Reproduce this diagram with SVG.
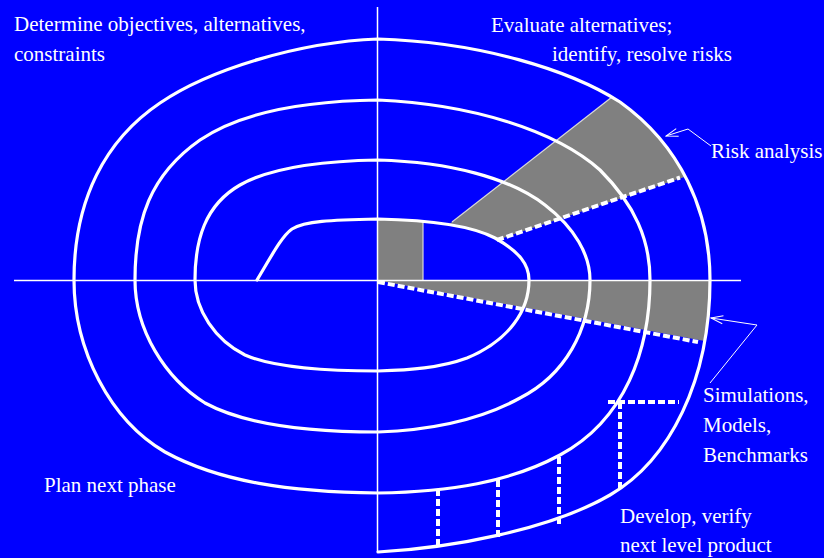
<svg xmlns="http://www.w3.org/2000/svg" width="824" height="558" viewBox="0 0 824 558">
<style>
.lbl{font-family:"Liberation Serif","Times New Roman",serif;font-size:21px;fill:#ffffff}
.spiral{fill:none;stroke:#ffffff;stroke-width:3.2;stroke-linejoin:round;stroke-linecap:round}
.axis{stroke:#ffffff;stroke-width:1.5;fill:none}
.dash{fill:none;stroke:#ffffff;stroke-width:4;stroke-dasharray:7 3}
.edge{stroke:#d8d8d8;stroke-width:1.2;fill:none}
.ptr{fill:none;stroke:#ffffff;stroke-width:1}
.gray{fill:#808080}
</style>
<defs>
<clipPath id="bandTR">
<path clip-rule="evenodd" d="M378,280 L378,39 C480,42 570,70 620,102 C680,145 710,210 710,280 Z M378,280 L378,219 C430,220 470,225 495,238 C520,252 529,265 529,280 Z"/>
</clipPath>
<clipPath id="outerBR">
<path d="M378,280 L710,280 C710,380 670,460 610,495 C550,530 450,548 378,552 Z"/>
</clipPath>
<marker id="open" viewBox="0 0 14 10" refX="13" refY="5" markerWidth="14" markerHeight="10" markerUnits="userSpaceOnUse" orient="auto">
<path d="M1,1 L13,5 L1,9" fill="none" stroke="#ffffff" stroke-width="1"/>
</marker>
</defs>
<rect width="824" height="558" fill="#0000ff"/>

<g id="shading">
<path class="gray" clip-path="url(#bandTR)" d="M378,280 L752,-13 L860,118 Z"/>
<path class="gray" clip-path="url(#outerBR)" d="M378,280.5 L900,280.5 L900,377 Z"/>
<rect class="gray" x="378" y="220" width="45" height="60.5"/>
<line class="edge" x1="423" y1="220" x2="423" y2="280"/>
<line class="edge" x1="452" y1="222" x2="612" y2="97"/>
</g>

<g id="axes">
<line class="axis" x1="14" y1="280.5" x2="741" y2="280.5"/>
<line class="axis" x1="377.5" y1="7" x2="377.5" y2="552"/>
</g>

<g id="spiral">
<path class="spiral" d="M257,280 C272,255 282,236 292,229 C305,221 330,220 378,219
C430,220 470,225 495,238 C520,252 529,265 529,280
C529,310 510,340 467,358 C440,368 410,370 378,371
C320,371 270,366 245,355 C215,340 195,310 195,280
C195,240 205,205 240,185 C270,168 320,161 378,160
C450,162 510,178 545,205 C575,228 590,255 590,280
C590,330 565,375 520,398 C480,420 430,430 378,432
C300,432 240,422 205,403 C165,378 135,330 135,280
C135,220 150,175 200,140 C240,113 300,101 378,100
C470,104 555,130 600,170 C635,205 650,240 650,280
C650,350 625,420 560,455 C510,482 450,492 378,493
C290,492 220,482 165,452 C110,420 74,350 74,280
C74,200 105,140 160,103 C210,69 300,42 378,39
C480,42 570,70 620,102 C680,145 710,210 710,280
C710,380 670,460 610,495 C550,530 450,548 378,552"/>
</g>

<g id="connectors">
<line class="dash" x1="497" y1="240" x2="680" y2="177.5"/>
<line class="dash" x1="378" y1="282" x2="698" y2="342"/>
<line class="dash" x1="438" y1="489" x2="438" y2="547"/>
<line class="dash" x1="498" y1="480" x2="498" y2="538"/>
<line class="dash" x1="559" y1="457" x2="559" y2="527"/>
<line class="dash" x1="620" y1="402" x2="620" y2="492"/>
<line class="dash" x1="608" y1="402" x2="679" y2="402"/>
<polyline class="ptr" marker-end="url(#open)" points="711,146 688,129 666,136"/>
<polyline class="ptr" marker-end="url(#open)" points="710,383 757,325 711,318"/>
</g>

<g id="labels">
<text class="lbl" x="14" y="31">Determine objectives, alternatives,</text>
<text class="lbl" x="14" y="61">constraints</text>
<text class="lbl" x="491" y="32">Evaluate alternatives;</text>
<text class="lbl" x="552" y="61">identify, resolve risks</text>
<text class="lbl" x="711" y="158">Risk analysis</text>
<text class="lbl" x="703" y="402">Simulations,</text>
<text class="lbl" x="703" y="432">Models,</text>
<text class="lbl" x="703" y="462">Benchmarks</text>
<text class="lbl" x="44" y="492">Plan next phase</text>
<text class="lbl" x="620" y="523">Develop, verify</text>
<text class="lbl" x="620" y="552">next level product</text>
</g>
</svg>
